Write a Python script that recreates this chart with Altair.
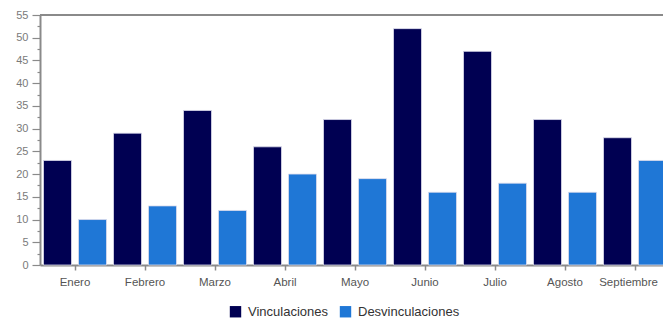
import altair as alt
import pandas as pd

months = ["Enero", "Febrero", "Marzo", "Abril", "Mayo", "Junio", "Julio", "Agosto", "Septiembre"]
series = ["Vinculaciones", "Desvinculaciones"]
vinculaciones = [23, 29, 34, 26, 32, 52, 47, 32, 28]
desvinculaciones = [10, 13, 12, 20, 19, 16, 18, 16, 23]
colors = ["#000052", "#1f77d6"]
y_max = 55

rows = []
for i, m in enumerate(months):
    rows.append({"mes": m, "serie": series[0], "valor": vinculaciones[i]})
    rows.append({"mes": m, "serie": series[1], "valor": desvinculaciones[i]})
df = pd.DataFrame(rows)

tick_values = [i * 2.5 for i in range(int(y_max / 2.5) + 1)]
axis_color = "#8a8a8a"
font = "Liberation Sans"
last_month = months[-1]

y_axis = alt.Axis(
    title=None, grid=False, values=tick_values,
    labelExpr="datum.value % 5 === 0 ? format(datum.value, 'd') : ''",
    tickSize={"condition": {"test": "datum.value % 5 === 0", "value": 8}, "value": 3},
    labelFont=font, labelFontSize=11, labelColor="#7a7a7a",
    domainColor=axis_color, domainWidth=2, tickColor=axis_color,
    tickWidth=1.2, labelPadding=4,
)
y_scale = alt.Scale(domain=[0, y_max], nice=False)

x_axis = alt.Axis(
    title=None, labelAngle=0, labelFont=font, labelFontSize=11.5,
    labelColor="#555555", domainColor=axis_color, domainWidth=2,
    tickColor=axis_color, tickWidth=1.5, tickSize=5, labelPadding=6,
    labelAlign={"condition": {"test": f"datum.value === '{last_month}'", "value": "right"}, "value": "center"},
    labelOffset={"condition": {"test": f"datum.value === '{last_month}'", "value": 23}, "value": 0},
)

bars = alt.Chart(df).mark_bar(stroke="#dcdcec", strokeWidth=0.8).encode(
    x=alt.X(
        "mes:N", sort=months,
        scale=alt.Scale(paddingInner=0.1, paddingOuter=0.05, range=[0, 630]),
        axis=x_axis,
    ),
    xOffset=alt.XOffset("serie:N", sort=series, scale=alt.Scale(paddingInner=0.2, paddingOuter=0)),
    y=alt.Y("valor:Q", scale=y_scale, axis=y_axis),
    color=alt.Color(
        "serie:N", sort=series,
        scale=alt.Scale(domain=series, range=colors),
        legend=alt.Legend(title=None, orient="none", direction="horizontal",
                          legendX=189, legendY=290, symbolType="square",
                          symbolSize=130, symbolStrokeWidth=0,
                          labelFont=font, labelFontSize=13, labelColor="#333333",
                          columnPadding=11, labelOffset=6),
    ),
)

top_rule = alt.Chart(pd.DataFrame({"k": [0]})).mark_rule(color=axis_color, strokeWidth=2).encode(
    y=alt.YDatum(y_max, scale=y_scale, axis=y_axis)
)

chart = alt.layer(bars, top_rule).properties(
    width=623, height=250, autosize="none",
    padding={"left": 32, "top": 7, "right": 0, "bottom": 54},
).configure_view(stroke=None)

chart.save("out.html", embed_options={"renderer": "svg", "actions": False})
